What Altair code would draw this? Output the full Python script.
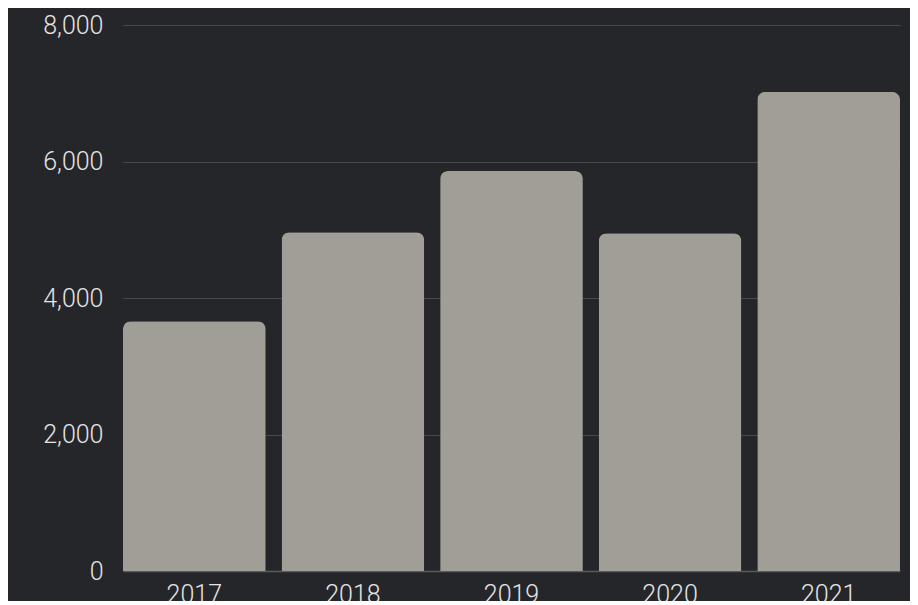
import altair as alt
import pandas as pd

years = ["2017", "2018", "2019", "2020", "2021"]
values = [3660, 4965, 5860, 4950, 7020]
y_ticks = [0, 2000, 4000, 6000, 8000]

df = pd.DataFrame({"year": years, "value": values})

label_style = dict(labelFontSize=25, labelColor="#e4e4e4",
                   labelFont="Roboto", labelFontWeight=300)

chart = alt.Chart(df).mark_bar(
    color="#a19d97", cornerRadiusTopLeft=8, cornerRadiusTopRight=8
).encode(
    x=alt.X("year:N", title=None, sort=years,
            scale=alt.Scale(paddingInner=0.1, paddingOuter=0),
            axis=alt.Axis(labelAngle=0, ticks=False, labelPadding=11,
                          domain=True, domainColor="#5a5b5f", domainWidth=1.5,
                          **label_style)),
    y=alt.Y("value:Q", title=None,
            scale=alt.Scale(domain=[0, 8000], nice=False),
            axis=alt.Axis(values=y_ticks, format=",d",
                          ticks=False, domain=False, labelPadding=20,
                          gridColor="#48494d", gridWidth=1.2,
                          **label_style)),
).properties(
    width=777, height=546,
    autosize=alt.AutoSizeParams(type="none"),
    padding={"left": 115, "top": 17, "right": 10, "bottom": 30},
    background="#25262a",
).configure_view(stroke=None)

chart.save("out.html", embed_options={"renderer": "svg", "actions": False})
